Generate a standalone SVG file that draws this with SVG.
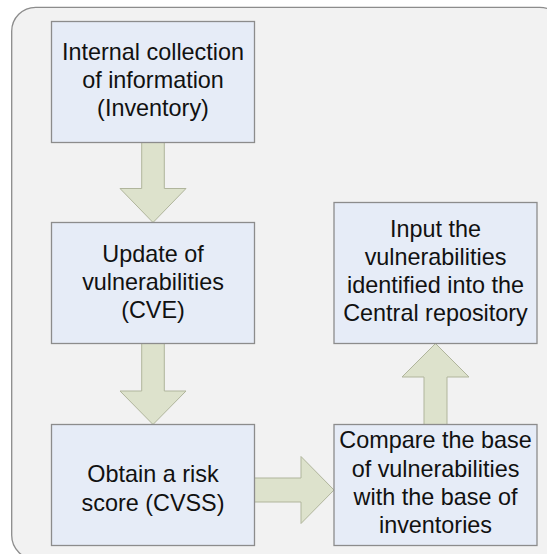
<svg xmlns="http://www.w3.org/2000/svg" width="547" height="554" viewBox="0 0 547 554">
<style>
.frame{fill:#f2f2f2;stroke:#8c8c8c;stroke-width:1.3}
.box{fill:#e6ecf7;stroke:#8c8c8c;stroke-width:1.3}
.arrow{fill:#dde2cc;stroke:#b0b59c;stroke-width:1}
.t{font-family:"Liberation Sans",Arial,sans-serif;font-size:23.4px;fill:#111;text-anchor:middle}
</style>
<rect class="frame" x="11.7" y="7.3" width="552" height="552" rx="24" ry="24"/>
<g id="connectors">
<polygon class="arrow" points="141.7,142.5 164.3,142.5 164.3,188.5 186,188.5 153,222.5 120,188.5 141.7,188.5"/>
<polygon class="arrow" points="141.7,343.5 164.3,343.5 164.3,391 186,391 153,424.5 120,391 141.7,391"/>
<polygon class="arrow" points="254.5,478 301,478 301,456.5 334,490 301,523.5 301,502 254.5,502"/>
<polygon class="arrow" points="424,424.5 447,424.5 447,377 469,377 435.5,343.5 402,377 424,377"/>
</g>
<g id="n1">
<rect class="box" x="51.5" y="21.5" width="203" height="121"/>
<text class="t" x="153" y="60">Internal collection</text>
<text class="t" x="153" y="88">of information</text>
<text class="t" x="153" y="116">(Inventory)</text>
</g>
<g id="n2">
<rect class="box" x="51.5" y="222.5" width="203" height="121"/>
<text class="t" x="153" y="262">Update of</text>
<text class="t" x="153" y="290">vulnerabilities</text>
<text class="t" x="153" y="318">(CVE)</text>
</g>
<g id="n3">
<rect class="box" x="51.5" y="424.5" width="203" height="121"/>
<text class="t" x="153" y="482">Obtain a risk</text>
<text class="t" x="153" y="511">score (CVSS)</text>
</g>
<g id="n4">
<rect class="box" x="334" y="424.5" width="203" height="121"/>
<text class="t" x="435.5" y="448.3">Compare the base</text>
<text class="t" x="435.5" y="476.5">of vulnerabilities</text>
<text class="t" x="435.5" y="504.7">with the base of</text>
<text class="t" x="435.5" y="532.7">inventories</text>
</g>
<g id="n5">
<rect class="box" x="334" y="202.5" width="203" height="141"/>
<text class="t" x="435.5" y="236.7">Input the</text>
<text class="t" x="435.5" y="265">vulnerabilities</text>
<text class="t" x="435.5" y="293.2">identified into the</text>
<text class="t" x="435.5" y="320.5">Central repository</text>
</g>
</svg>
